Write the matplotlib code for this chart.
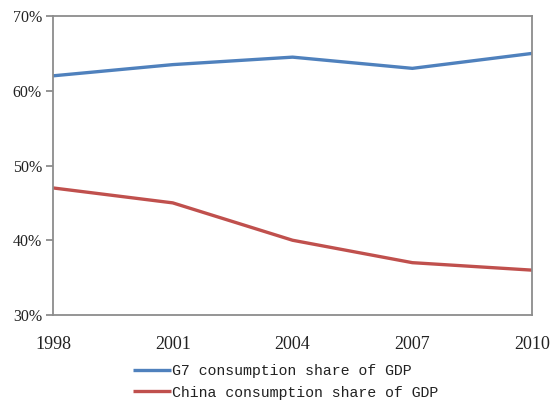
import matplotlib
matplotlib.use("Agg")
import matplotlib.pyplot as plt
from matplotlib.ticker import FuncFormatter

years = [1998, 2001, 2004, 2007, 2010]
g7_share = [62.0, 63.5, 64.5, 63.0, 65.0]
china_share = [47.0, 45.0, 40.0, 37.0, 36.0]
series_labels = ["G7 consumption share of GDP", "China consumption share of GDP"]
y_ticks = [30, 40, 50, 60, 70]

fig = plt.figure(figsize=(5.52, 4.01), dpi=100)
ax = fig.add_axes([0.096, 0.2145, 0.868, 0.7455])

ax.plot(years, g7_share, color="#4F81BD", lw=2.4, label=series_labels[0], solid_capstyle="butt")
ax.plot(years, china_share, color="#C0504D", lw=2.4, label=series_labels[1], solid_capstyle="butt")

ax.set_xlim(years[0], years[-1])
ax.set_ylim(y_ticks[0], y_ticks[-1])
ax.set_xticks(years)
ax.set_yticks(y_ticks)
ax.yaxis.set_major_formatter(FuncFormatter(lambda v, _: f"{v:.0f}%"))

for s in ax.spines.values():
    s.set_color("#8C8C8C")
    s.set_linewidth(1.3)

ax.tick_params(axis="y", direction="out", length=5, width=1.3, color="#8C8C8C", pad=3)
ax.tick_params(axis="x", length=0, pad=15)
for lbl in ax.get_yticklabels():
    lbl.set_fontfamily("Liberation Serif")
    lbl.set_fontsize(11.5)
    lbl.set_color("#222222")
for lbl in ax.get_xticklabels():
    lbl.set_fontfamily("Liberation Serif")
    lbl.set_fontsize(13)
    lbl.set_color("#222222")

leg = fig.legend(loc="upper center", bbox_to_anchor=(0.518, 0.092), frameon=False,
                 prop={"family": "Liberation Mono", "size": 10.7},
                 handlelength=2.5, handletextpad=0.1, labelspacing=0.5,
                 borderaxespad=0, borderpad=0)
for t in leg.get_texts():
    t.set_color("#222222")

fig.savefig("out.png", dpi=100)
